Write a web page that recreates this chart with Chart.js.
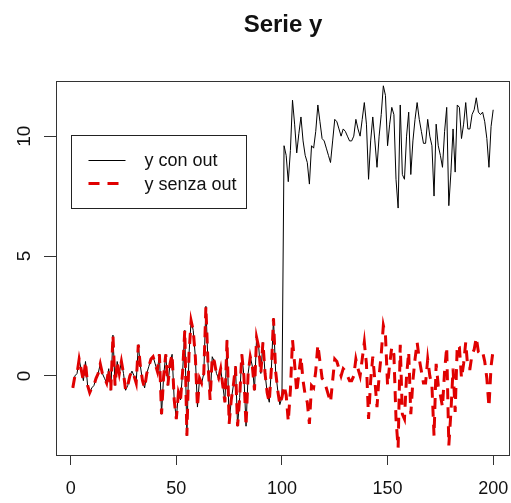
<!DOCTYPE html>
<html>
<head>
<meta charset="utf-8">
<script src="https://cdn.jsdelivr.net/npm/chart.js@4"></script>
<style>
  body { margin: 0; background: #fff; }
  canvas { display: block; }
</style>
</head>
<body>
<canvas id="serie-chart" width="511" height="503"></canvas>
<script>
// valori 1..100 (uguali nelle due serie)
const headValues = [
    -0.5, 0.0, 0.1, 0.7, 0.25, -0.2, 0.6, -0.4, -0.7, -0.5,
    -0.4, -0.1, 0.1, 0.5, 0.1, -0.1, -0.3, 0.3, -0.6, 1.7,
    -0.4, 0.6, 0.1, 0.6, 0.1, -0.6, -0.4, 0.0, 0.2, 0.0,
    -0.3, 1.3, 0.4, -0.2, -0.5, 0.1, 0.4, 0.7, 0.8, 0.5,
    0.2, 0.9, -1.6, 0.0, 0.9, -0.4, 0.5, 0.9, -1.0, -1.8,
    -0.7, -1.0, 0.2, 1.9, -2.5, 0.9, 2.3, 1.9, 0.8, -1.3,
    -0.1, -0.3, 0.1, 2.9, 0.5, -1.0, 0.8, 0.6, 0.1, -0.1,
    0.3, -0.4, -1.1, 1.5, -2.0, -1.0, -0.4, 0.4, -2.1, -0.9,
    0.9, 0.0, -2.1, 0.1, 0.8, 0.4, -0.6, 1.6, 1.2, 0.1,
    1.4, 0.1, -0.7, -1.1, 0.3, 2.4, 0.2, -0.6, -1.2, -0.9
];

// valori 101..200 con gli outlier
const conOutTail = [
    9.6, 9.2, 8.1, 9.4, 11.5, 10.5, 9.3, 10.1, 10.8, 9.8,
    9.2, 8.9, 8.0, 9.6, 9.5, 10.2, 11.3, 10.6, 9.9, 9.8,
    9.5, 9.2, 8.9, 9.8, 10.7, 10.6, 10.3, 10.0, 10.3, 10.2,
    10.0, 9.8, 9.8, 10.0, 10.7, 10.3, 10.0, 10.7, 11.4, 10.5,
    8.2, 9.8, 10.8, 9.8, 8.7, 10.0, 10.9, 12.1, 11.7, 9.6,
    10.5, 11.2, 10.9, 8.2, 7.0, 11.3, 8.4, 8.2, 10.0, 11.0,
    8.4, 9.8, 10.7, 11.4, 10.7, 10.2, 9.7, 9.7, 10.7, 10.0,
    9.6, 7.5, 10.5, 9.6, 9.2, 8.7, 10.2, 11.2, 7.1, 8.5,
    10.3, 8.5, 11.3, 11.2, 9.9, 10.5, 11.4, 10.3, 10.3, 10.9,
    11.1, 11.6, 11.0, 10.9, 11.0, 10.6, 9.9, 8.7, 10.4, 11.1
];

// valori 101..200 senza outlier
const senzaOutTail = [
    -0.4, -0.8, -1.9, -0.6, 1.5, 0.5, -0.7, 0.1, 0.8, -0.2,
    -0.8, -1.1, -2.0, -0.4, -0.5, 0.2, 1.3, 0.6, -0.1, -0.2,
    -0.5, -0.8, -1.1, -0.2, 0.7, 0.6, 0.3, 0.0, 0.3, 0.2,
    0.0, -0.2, -0.2, 0.0, 0.7, 0.3, 0.0, 0.7, 1.4, 0.5,
    -1.8, -0.2, 0.8, -0.2, -1.3, 0.0, 0.9, 2.1, 1.7, -0.4,
    0.5, 1.2, 0.9, -1.8, -3.0, 1.3, -1.6, -1.8, 0.0, 1.0,
    -1.6, -0.2, 0.7, 1.4, 0.7, 0.2, -0.3, -0.3, 0.7, 0.0,
    -0.4, -2.5, 0.5, -0.4, -0.8, -1.3, 0.2, 1.2, -2.9, -1.5,
    0.3, -1.5, 1.3, 1.2, -0.1, 0.5, 1.4, 0.3, 0.3, 0.9,
    1.1, 1.6, 1.0, 0.9, 1.0, 0.6, -0.1, -1.3, 0.4, 1.1
];

const xTickValues = [0, 50, 100, 150, 200];
const yTickValues = [0, 5, 10];
const seriesNames = ["y con out", "y senza out"];

const yConOut = headValues.concat(conOutTail);
const ySenzaOut = headValues.concat(senzaOutTail);

function toPoints(values) {
    return values.map((v, i) => ({ x: i + 1, y: v }));
}

const FONT = "'Liberation Sans', Arial, sans-serif";
Chart.defaults.font.family = FONT;

// cornice del grafico + legenda stile R
const frameAndLegend = {
    id: "frameAndLegend",
    afterDraw(chart) {
        const ctx = chart.ctx;
        const area = chart.chartArea;
        const xs = chart.scales.x;
        const ys = chart.scales.y;

        ctx.save();
        ctx.strokeStyle = "#333";
        ctx.lineWidth = 1;
        ctx.strokeRect(area.left + 0.5, area.top + 0.5, area.right - area.left - 1, area.bottom - area.top);

        // legenda con angolo in alto a sinistra in (0, 10)
        const lx = Math.round(xs.getPixelForValue(0)) + 0.5;
        const ly = Math.round(ys.getPixelForValue(10)) - 0.5;
        ctx.fillStyle = "#fff";
        ctx.fillRect(lx, ly, 175, 73);
        ctx.strokeStyle = "#222";
        ctx.strokeRect(lx, ly, 175, 73);

        ctx.strokeStyle = "#000";
        ctx.lineWidth = 1;
        ctx.beginPath();
        ctx.moveTo(lx + 17, ly + 25);
        ctx.lineTo(lx + 54, ly + 25);
        ctx.stroke();

        ctx.strokeStyle = "#e00000";
        ctx.lineWidth = 3;
        ctx.setLineDash([11, 8]);
        ctx.beginPath();
        ctx.moveTo(lx + 17, ly + 48);
        ctx.lineTo(lx + 54, ly + 48);
        ctx.stroke();
        ctx.setLineDash([]);

        ctx.fillStyle = "#111";
        ctx.font = "18px " + FONT;
        ctx.textBaseline = "middle";
        ctx.textAlign = "left";
        ctx.fillText(seriesNames[0], lx + 73, ly + 26);
        ctx.fillText(seriesNames[1], lx + 73, ly + 50);
        ctx.restore();
    }
};

const ctx = document.getElementById("serie-chart").getContext("2d");
new Chart(ctx, {
    type: "line",
    data: {
        datasets: [
            {
                label: seriesNames[1],
                data: toPoints(ySenzaOut),
                borderColor: "#e00000",
                borderWidth: 3,
                borderDash: [11, 8],
                pointRadius: 0,
                tension: 0,
                order: 1
            },
            {
                label: seriesNames[0],
                data: toPoints(yConOut),
                borderColor: "#000",
                borderWidth: 1,
                pointRadius: 0,
                tension: 0,
                order: 2
            }
        ]
    },
    options: {
        responsive: false,
        animation: false,
        layout: { padding: { top: 0, right: 1, bottom: 0, left: 0 } },
        plugins: {
            legend: { display: false },
            tooltip: { enabled: false },
            title: {
                display: true,
                text: "Serie y",
                fullSize: false,
                color: "#111",
                font: { size: 24, weight: "bold" },
                padding: { top: 11, bottom: 41.2 }
            }
        },
        scales: {
            x: {
                type: "linear",
                position: "bottom",
                min: -6.96,
                max: 207.96,
                border: { display: false },
                grid: { drawOnChartArea: false, tickLength: 10, tickColor: "#333" },
                ticks: { color: "#111", font: { size: 18 }, padding: 13, maxRotation: 0 },
                afterBuildTicks(scale) {
                    scale.ticks = xTickValues.map(v => ({ value: v }));
                },
                afterFit(scale) {
                    scale.height = 48;
                    scale.paddingLeft = 0;
                    scale.paddingRight = 0;
                }
            },
            y: {
                type: "linear",
                min: -3.3,
                max: 12.3,
                border: { display: false },
                grid: { drawOnChartArea: false, tickLength: 12, tickColor: "#333" },
                ticks: {
                    color: "#111",
                    font: { size: 19 },
                    padding: 9,
                    minRotation: 90,
                    maxRotation: 90,
                    crossAlign: "center"
                },
                afterBuildTicks(scale) {
                    scale.ticks = yTickValues.map(v => ({ value: v }));
                },
                afterFit(scale) {
                    scale.width = 56;
                    scale.paddingTop = 0;
                    scale.paddingBottom = 0;
                }
            }
        }
    },
    plugins: [frameAndLegend]
});
</script>
</body>
</html>
